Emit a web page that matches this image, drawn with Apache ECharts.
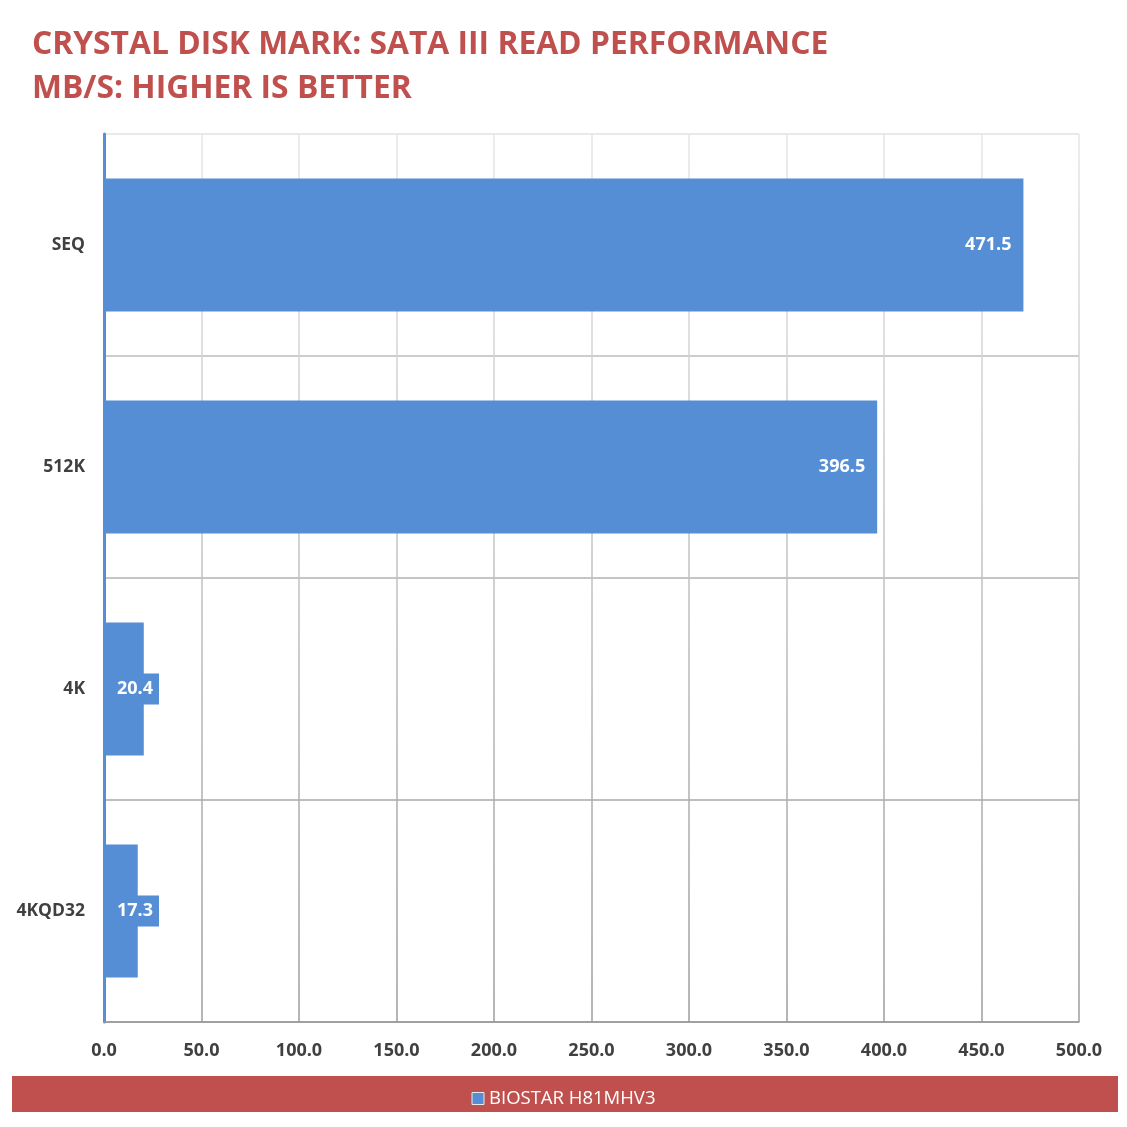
<!DOCTYPE html>
<html>
<head>
<meta charset="utf-8">
<script src="https://cdn.jsdelivr.net/npm/echarts@6/dist/echarts.min.js"></script>
<style>html,body{margin:0;padding:0;background:#fff;}#c{width:1127px;height:1127px;}</style>
</head>
<body>
<div id="c"></div>
<script>
const categories = ['SEQ', '512K', '4K', '4KQD32'];
const seriesName = 'BIOSTAR H81MHV3';
const values = [471.5, 396.5, 20.4, 17.3];
const xTicks = { min: 0, max: 500, interval: 50 };
const titleText = 'CRYSTAL DISK MARK: SATA III READ PERFORMANCE\nMB/S: HIGHER IS BETTER';

const BLUE = '#558ED5';
const RED = '#C0504D';
const chart = echarts.init(document.getElementById('c'));

const data = values.map(v => {
  const small = v < 60;
  return {
    value: v,
    label: small ? {
      position: 'insideLeft',
      distance: 0,
      backgroundColor: BLUE,
      padding: [7, 6, 6, 13]
    } : { position: 'insideRight', distance: 12 }
  };
});

chart.setOption({
  animation: false,
  title: {
    text: titleText,
    left: 27,
    top: 18,
    textStyle: {
      color: RED, fontSize: 31.8, fontWeight: 'bold',
      fontFamily: '"Open Sans", sans-serif',
      lineHeight: 44
    }
  },
  graphic: [{
    type: 'rect', z: 0,
    shape: { x: 12, y: 1076, width: 1106, height: 36 },
    style: { fill: RED }
  }],
  legend: {
    z: 10,
    left: 'center',
    top: 1084,
    itemWidth: 12, itemHeight: 12, itemGap: 4,
    icon: 'rect',
    itemStyle: { borderColor: '#e8e8e8', borderWidth: 1 },
    textStyle: { color: '#fff', fontSize: 18.5, fontFamily: '"Open Sans", sans-serif', padding: [0, 0, 0, 0] },
    data: [seriesName]
  },
  grid: { left: 104, right: 48, top: 134, bottom: 105, containLabel: false },
  xAxis: {
    type: 'value',
    min: xTicks.min, max: xTicks.max, interval: xTicks.interval,
    axisLine: { show: true, lineStyle: { color: '#999999', width: 1.5 } },
    axisTick: { show: false },
    axisLabel: {
      formatter: v => v.toFixed(1),
      color: '#404040', fontSize: 18, fontWeight: 'bold',
      fontFamily: '"Open Sans", sans-serif', margin: 20
    },
    splitLine: {
      show: true,
      lineStyle: {
        width: 1.5,
        color: new echarts.graphic.LinearGradient(0, 0, 0, 1, [
          { offset: 0, color: '#e6e6e6' },
          { offset: 1, color: '#9c9c9c' }
        ])
      }
    }
  },
  yAxis: {
    type: 'category',
    inverse: true,
    data: categories,
    axisLine: { show: true, lineStyle: { color: BLUE, width: 3 } },
    axisTick: { show: false },
    axisLabel: {
      color: '#404040', fontSize: 17.5, fontWeight: 'bold',
      fontFamily: '"Open Sans", sans-serif', margin: 19
    },
    splitLine: {
      show: true,
      lineStyle: { width: 1.5, color: ['#e2e2e2', '#bdbdbd', '#b2b2b2', '#a8a8a8', '#9c9c9c'] }
    }
  },
  series: [{
    name: seriesName,
    type: 'bar',
    barCategoryGap: '40%',
    itemStyle: { color: BLUE },
    label: {
      show: true,
      color: '#fff', fontSize: 18, fontWeight: 'bold',
      fontFamily: '"Open Sans", sans-serif',
      formatter: p => p.value.toFixed(1)
    },
    data: data
  }]
});
</script>
</body>
</html>
